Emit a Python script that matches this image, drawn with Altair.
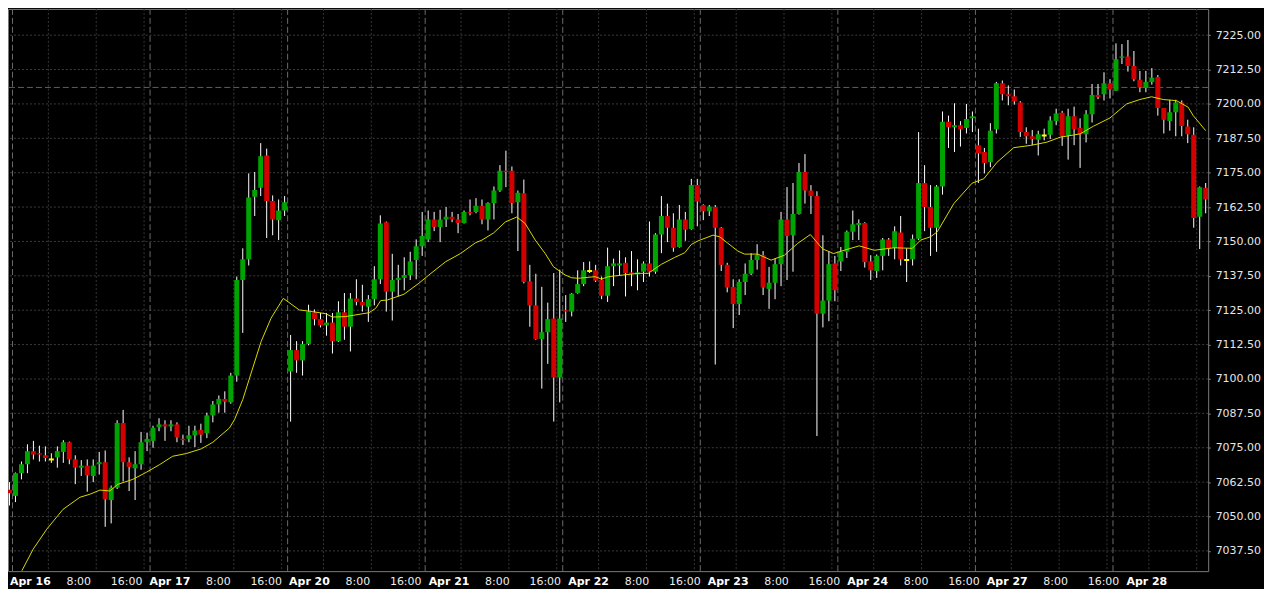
import altair as alt
import pandas as pd

# ---------------- data (hourly candles) ----------------
open_ = [
    7058.5, 7059.75, 7057.5, 7065.75, 7069.0, 7073.75, 7073.0, 7072.25, 7070.75, 7071.5,
    7073.5, 7077.0, 7070.75, 7067.75, 7068.5, 7064.75, 7069.0, 7069.75, 7056.0, 7060.5,
    7084.0, 7069.75, 7067.5, 7069.0, 7077.0, 7077.5, 7082.5, 7083.5, 7082.75, 7083.5,
    7078.25, 7078.25, 7079.5, 7081.5, 7080.25, 7086.75, 7090.75, 7092.75, 7091.5, 7101.25,
    7136.0, 7143.5, 7166.25, 7169.5, 7181.25, 7164.75, 7157.75, 7161.25, 7102.75, 7110.5,
    7106.75, 7112.75, 7124.25, 7121.75, 7119.5, 7120.5, 7113.75, 7124.25, 7119.0, 7129.25,
    7128.0, 7126.25, 7129.0, 7136.25, 7157.0, 7131.75, 7136.0, 7136.75, 7137.75, 7143.25,
    7148.25, 7150.75, 7158.0, 7155.25, 7158.0, 7159.0, 7158.0, 7156.75, 7160.75, 7160.75,
    7163.0, 7158.0, 7164.0, 7168.5, 7175.75, 7175.75, 7164.25, 7167.5, 7135.5, 7126.75,
    7114.5, 7117.0, 7122.0, 7100.5, 7125.0, 7124.5, 7131.25, 7134.5, 7139.25, 7139.5,
    7136.0, 7130.25, 7141.0, 7141.25, 7142.25, 7138.75, 7138.0, 7139.0, 7142.0, 7139.0,
    7152.5, 7159.25, 7155.0, 7148.0, 7158.0, 7154.5, 7170.5, 7163.25, 7161.0, 7162.5,
    7155.0, 7141.5, 7133.5, 7127.25, 7135.25, 7138.25, 7143.25, 7145.0, 7132.75, 7135.0,
    7141.75, 7158.0, 7152.25, 7160.0, 7175.25, 7168.5, 7166.5, 7123.75, 7128.5, 7142.0,
    7142.75, 7146.25, 7153.5, 7156.0, 7156.75, 7142.75, 7139.25, 7144.75, 7150.75, 7147.75,
    7153.25, 7143.25, 7143.5, 7151.0, 7171.25, 7162.5, 7155.0, 7170.0, 7193.5, 7191.5,
    7192.25, 7191.25, 7194.75, 7185.0, 7182.5, 7178.75, 7190.75, 7207.5, 7203.5, 7202.75,
    7200.5, 7189.75, 7188.25, 7187.0, 7188.5, 7188.75, 7193.75, 7196.75, 7188.5, 7195.5,
    7191.25, 7189.0, 7196.25, 7203.25, 7203.5, 7207.5, 7204.75, 7216.75, 7217.25, 7213.75,
    7208.75, 7205.75, 7208.0, 7209.75, 7198.5, 7193.75, 7197.0, 7200.5, 7191.75, 7188.75,
    7159.0, 7169.5,
]
high = [
    7064.5, 7062.5, 7066.0, 7070.0, 7076.25, 7077.5, 7075.75, 7075.5, 7073.0, 7075.5,
    7077.75, 7077.25, 7072.25, 7070.5, 7070.75, 7070.75, 7073.5, 7074.0, 7061.25, 7085.0,
    7088.75, 7071.5, 7073.75, 7080.75, 7080.5, 7083.0, 7085.75, 7085.0, 7085.0, 7084.25,
    7079.75, 7083.0, 7083.0, 7083.75, 7087.75, 7092.0, 7094.0, 7095.5, 7102.25, 7137.25,
    7147.5, 7174.75, 7175.25, 7185.75, 7183.75, 7166.75, 7165.25, 7166.5, 7116.0, 7113.75,
    7113.75, 7127.0, 7125.25, 7124.0, 7124.0, 7124.0, 7128.25, 7131.25, 7131.25, 7136.25,
    7134.25, 7130.5, 7141.0, 7159.5, 7157.25, 7145.5, 7141.5, 7144.25, 7146.25, 7150.75,
    7160.75, 7161.25, 7160.75, 7161.5, 7162.5, 7160.75, 7160.0, 7161.25, 7165.25, 7165.75,
    7165.25, 7164.25, 7170.0, 7177.75, 7183.0, 7177.25, 7168.5, 7172.5, 7141.5, 7138.25,
    7133.5, 7127.75, 7138.5, 7139.75, 7130.5, 7131.25, 7139.5, 7142.5, 7142.75, 7141.5,
    7137.25, 7147.75, 7143.75, 7146.75, 7144.25, 7146.5, 7143.5, 7142.75, 7157.25, 7153.0,
    7166.5, 7163.75, 7160.25, 7163.25, 7160.75, 7172.75, 7172.75, 7163.5, 7163.25, 7163.25,
    7155.25, 7142.25, 7136.25, 7136.25, 7142.0, 7145.75, 7149.0, 7146.5, 7140.75, 7143.75,
    7160.75, 7169.75, 7171.25, 7178.5, 7181.75, 7170.5, 7168.25, 7152.25, 7146.5, 7144.75,
    7148.0, 7154.0, 7161.25, 7158.0, 7157.0, 7145.0, 7145.25, 7151.25, 7151.25, 7155.5,
    7159.25, 7147.5, 7152.5, 7189.75, 7177.75, 7170.5, 7170.5, 7197.25, 7195.75, 7200.25,
    7193.75, 7200.0, 7197.25, 7191.0, 7184.0, 7193.0, 7208.0, 7208.5, 7206.75, 7205.25,
    7201.0, 7191.5, 7190.5, 7190.25, 7191.0, 7195.5, 7198.25, 7197.5, 7198.25, 7199.0,
    7194.75, 7197.75, 7207.25, 7207.25, 7211.5, 7209.0, 7222.0, 7221.75, 7223.25, 7219.25,
    7212.0, 7212.0, 7213.0, 7210.5, 7198.5, 7201.5, 7201.5, 7201.25, 7194.25, 7191.5,
    7170.0, 7171.25,
]
low = [
    7054.0, 7054.0, 7055.25, 7063.5, 7065.75, 7070.75, 7070.0, 7070.0, 7069.5, 7067.75,
    7069.5, 7069.0, 7061.75, 7064.75, 7059.0, 7062.5, 7065.25, 7046.25, 7047.5, 7060.0,
    7062.75, 7059.25, 7056.0, 7067.0, 7073.75, 7075.0, 7081.0, 7077.5, 7081.0, 7077.0,
    7076.0, 7077.0, 7075.25, 7076.75, 7078.5, 7084.25, 7087.75, 7087.75, 7091.0, 7099.0,
    7116.75, 7141.25, 7159.25, 7166.5, 7151.25, 7152.25, 7150.5, 7159.25, 7084.5, 7102.25,
    7101.25, 7112.25, 7119.5, 7118.75, 7115.75, 7109.25, 7113.5, 7114.25, 7110.0, 7126.75,
    7124.5, 7120.75, 7126.75, 7134.5, 7124.5, 7121.25, 7130.0, 7132.25, 7136.0, 7136.25,
    7144.75, 7149.75, 7153.75, 7149.75, 7155.25, 7157.0, 7153.0, 7156.5, 7159.5, 7160.25,
    7156.25, 7154.0, 7158.0, 7168.0, 7169.75, 7160.25, 7146.5, 7134.75, 7119.0, 7114.25,
    7096.5, 7105.5, 7084.5, 7091.5, 7120.75, 7122.75, 7131.0, 7133.75, 7138.5, 7135.25,
    7129.0, 7128.0, 7133.75, 7137.5, 7130.0, 7133.75, 7132.25, 7135.25, 7137.25, 7138.25,
    7145.75, 7149.75, 7146.25, 7147.75, 7150.25, 7154.25, 7155.5, 7157.75, 7159.25, 7105.25,
    7139.25, 7131.5, 7118.5, 7123.25, 7130.5, 7137.75, 7139.75, 7130.5, 7125.5, 7129.0,
    7133.75, 7136.0, 7139.0, 7159.75, 7163.75, 7160.0, 7079.25, 7118.75, 7121.0, 7128.25,
    7139.25, 7144.0, 7150.5, 7150.5, 7140.5, 7136.0, 7136.75, 7139.5, 7144.75, 7143.5,
    7141.25, 7135.25, 7141.25, 7150.5, 7153.75, 7144.75, 7146.25, 7167.0, 7184.0, 7182.5,
    7184.5, 7189.25, 7189.75, 7171.25, 7174.75, 7177.0, 7189.25, 7201.25, 7199.5, 7199.75,
    7188.0, 7185.5, 7185.0, 7181.25, 7186.75, 7187.25, 7192.25, 7184.75, 7179.75, 7185.0,
    7176.75, 7186.0, 7193.25, 7201.75, 7201.25, 7202.0, 7204.75, 7214.5, 7211.75, 7208.25,
    7204.25, 7204.25, 7207.0, 7195.75, 7189.25, 7190.25, 7188.25, 7188.25, 7185.75, 7155.0,
    7147.25, 7160.25,
]
close = [
    7059.75, 7058.5, 7065.75, 7069.0, 7073.75, 7072.5, 7072.5, 7071.25, 7070.75, 7073.75,
    7077.0, 7070.75, 7067.75, 7068.5, 7065.0, 7068.5, 7069.75, 7056.25, 7060.5, 7084.0,
    7069.75, 7068.0, 7069.0, 7077.0, 7078.25, 7082.25, 7083.5, 7082.75, 7083.5, 7078.75,
    7077.75, 7079.5, 7081.25, 7079.75, 7086.75, 7090.75, 7092.75, 7091.75, 7101.25, 7136.0,
    7143.5, 7166.0, 7168.75, 7181.0, 7164.75, 7158.0, 7161.25, 7164.25, 7110.5, 7106.75,
    7112.75, 7124.5, 7121.75, 7119.5, 7120.5, 7113.75, 7124.25, 7119.0, 7129.25, 7128.0,
    7126.75, 7129.0, 7136.25, 7156.5, 7131.75, 7136.0, 7136.75, 7137.75, 7142.75, 7148.25,
    7152.0, 7158.0, 7155.25, 7158.0, 7159.0, 7158.0, 7156.75, 7160.75, 7160.25, 7163.0,
    7158.0, 7164.0, 7168.5, 7175.75, 7175.25, 7164.0, 7167.75, 7135.25, 7126.75, 7114.5,
    7117.0, 7121.75, 7100.5, 7122.0, 7124.5, 7131.0, 7134.5, 7139.5, 7139.25, 7135.75,
    7130.25, 7141.0, 7142.0, 7142.0, 7138.5, 7138.25, 7138.75, 7142.0, 7139.0, 7152.5,
    7159.25, 7155.0, 7147.75, 7158.0, 7154.25, 7170.5, 7164.5, 7161.0, 7162.75, 7155.0,
    7141.5, 7133.25, 7127.25, 7135.25, 7138.25, 7143.25, 7145.0, 7133.25, 7135.0, 7141.75,
    7158.0, 7152.0, 7160.0, 7175.25, 7168.5, 7166.5, 7123.75, 7128.5, 7141.75, 7132.25,
    7146.25, 7153.5, 7156.25, 7156.75, 7142.5, 7139.5, 7144.75, 7150.75, 7147.5, 7153.75,
    7143.5, 7143.25, 7151.0, 7171.25, 7162.5, 7155.0, 7170.0, 7193.5, 7191.5, 7192.25,
    7190.75, 7194.5, 7195.5, 7182.0, 7178.5, 7190.25, 7207.5, 7203.5, 7202.75, 7201.0,
    7189.75, 7188.25, 7187.25, 7189.0, 7188.5, 7194.0, 7196.5, 7188.25, 7195.5, 7190.75,
    7189.0, 7196.25, 7203.25, 7202.5, 7207.5, 7205.25, 7216.25, 7217.25, 7213.75, 7209.0,
    7206.0, 7208.0, 7209.5, 7198.5, 7194.25, 7197.0, 7200.5, 7192.0, 7189.0, 7158.5,
    7169.75, 7165.25,
]

# moving-average line, read at points along it (bar index, price)
ma_bar = [3.07, 4.95, 7.23, 9.95, 12.78, 14.45, 16.12, 17.78, 19.12, 21.62, 23.9, 26.12,
          28.28, 30.57, 33.07, 35.0, 37.78, 38.62, 40.0, 41.67, 43.07, 44.73, 46.78, 49.45,
          51.67, 53.9, 55.0, 57.23, 61.12, 62.23, 63.07, 64.17, 66.95, 69.45, 71.12, 73.9,
          76.4, 78.9, 80.0, 81.95, 83.9, 85.83, 87.23, 88.9, 90.57, 91.95, 93.9, 95.0,
          96.12, 98.9, 100.0, 101.12, 106.12, 107.78, 110.0, 112.23, 113.9, 115.0, 116.12,
          118.62, 119.73, 122.78, 123.9, 126.12, 128.33, 130.57, 132.78, 134.9, 136.95,
          138.78, 140.57, 143.07, 145.57, 148.9, 151.95, 153.33, 155.0, 156.12, 158.9,
          161.95, 163.9, 166.12, 168.9, 171.67, 174.45, 176.67, 180.0, 182.23, 185.0,
          187.78, 190.0, 191.95, 193.9, 196.12, 198.07, 198.9, 201.0]
ma_value = [7030.3, 7038.1, 7045.4, 7052.6, 7057.0, 7058.1, 7059.6, 7059.3, 7061.7, 7063.5,
            7066.1, 7068.9, 7071.9, 7072.9, 7074.6, 7077.0, 7082.2, 7085.2, 7092.5, 7104.0,
            7113.6, 7122.1, 7129.3, 7125.1, 7124.5, 7123.7, 7122.5, 7122.7, 7124.1, 7125.7,
            7128.5, 7128.7, 7130.8, 7134.8, 7137.8, 7142.6, 7145.6, 7149.5, 7150.5, 7153.1,
            7157.1, 7158.9, 7156.5, 7150.5, 7145.6, 7140.8, 7137.8, 7136.8, 7136.6, 7137.2,
            7136.3, 7137.2, 7138.4, 7138.4, 7141.7, 7144.2, 7145.9, 7148.9, 7150.2, 7152.3,
            7151.7, 7146.5, 7145.4, 7145.4, 7143.2, 7145.0, 7149.3, 7152.5, 7147.3, 7145.6,
            7146.8, 7148.4, 7146.8, 7147.7, 7147.5, 7150.5, 7151.7, 7153.5, 7163.8, 7171.2,
            7172.8, 7178.8, 7184.1, 7184.9, 7186.1, 7187.9, 7189.1, 7191.9, 7194.9, 7200.0,
            7201.6, 7202.6, 7201.6, 7201.2, 7198.8, 7195.8, 7190.3]

level_price = [7206.0]

day_labels = ["Apr 16", "Apr 17", "Apr 20", "Apr 21", "Apr 22", "Apr 23", "Apr 24", "Apr 27", "Apr 28"]
day_start_bar = [2, 25, 48, 71, 94, 117, 140, 163, 186]   # first hourly bar of each session
hour_labels = ["8:00", "16:00"]
y_ticks = [7037.5, 7050.0, 7062.5, 7075.0, 7087.5, 7100.0, 7112.5, 7125.0, 7137.5,
           7150.0, 7162.5, 7175.0, 7187.5, 7200.0, 7212.5, 7225.0]

# ---------------- layout / style ----------------
GREEN = "#00a400"
RED = "#d40000"
DOJI = "#ffff00"
MA_COLOR = "#d8d800"
FONT = "DejaVu Sans"
BODY_HALF = 2.5 / 6.0          # 5 px bodies on a 6 px bar pitch
LABEL_STEP = 140.0 / 6.0        # axis-label pitch per session (bars)

bars = pd.DataFrame({"bar": list(range(len(open_))), "open": open_, "high": high,
                     "low": low, "close": close})
bars["kind"] = ["up" if c > o else ("down" if c < o else "doji") for o, c in zip(open_, close)]
bars["x0"] = bars["bar"] - BODY_HALF
bars["x1"] = bars["bar"] + BODY_HALF

ma = pd.DataFrame({"bar": ma_bar, "ma": ma_value})
bounds = pd.DataFrame({"x": [s - 0.5 for s in day_start_bar]})
hours = pd.DataFrame({"x": [s - 0.5 + h for s in day_start_bar for h in (6, 14, 22)]})
level = pd.DataFrame({"price": level_price})
ticks = pd.DataFrame({"price": y_ticks})

day_lab = pd.DataFrame({"label": day_labels,
                        "x": [1.08 + LABEL_STEP * k for k in range(len(day_labels))]})
hr_rows = []
for k in range(len(day_labels) - 1):
    hr_rows.append({"label": hour_labels[0], "x": 12.58 + LABEL_STEP * k})
    hr_rows.append({"label": hour_labels[1], "x": 20.58 + LABEL_STEP * k})
hour_lab = pd.DataFrame(hr_rows)

x_scale = alt.Scale(domain=[0.75, 201.4167], nice=False, zero=False)
y_scale = alt.Scale(domain=[7030.14, 7234.54], nice=False, zero=False)
y_axis = alt.Axis(orient="right", values=y_ticks, format=".2f", title=None,
                  grid=False, domain=False,
                  tickSize=2, tickColor="#8a8a8a", labelPadding=5, labelFont=FONT,
                  labelFontSize=11, labelColor="#e6e6e6", labelFlush=False,
                  labelOverlap=False)


def X(f):
    return alt.X(f, type="quantitative", scale=x_scale, axis=None)


def Y(f):
    return alt.Y(f, type="quantitative", scale=y_scale, axis=y_axis)


# horizontal dotted grid (drawn as rules so it sits under the candles)
h_grid = alt.Chart(ticks).mark_rule(color="#3c3c3c", strokeDash=[2, 2], strokeWidth=1,
                                    clip=True).encode(y=Y("price"))
hour_rules = alt.Chart(hours).mark_rule(color="#363636", strokeDash=[2, 2], strokeWidth=1,
                                        clip=True).encode(x=X("x"))
day_rules = alt.Chart(bounds).mark_rule(color="#6a6a6a", strokeDash=[6, 3], strokeWidth=1,
                                        clip=True).encode(x=X("x"))
level_rule = alt.Chart(level).mark_rule(color="#5f5f5f", strokeDash=[6, 3], strokeWidth=1,
                                        clip=True).encode(y=Y("price"))

wicks = alt.Chart(bars).mark_rule(color="#ffffff", strokeWidth=1, clip=True).encode(
    x=X("bar"), y=Y("low"), y2="high")

bodies = alt.Chart(bars).transform_filter("datum.kind != 'doji'").mark_rect(clip=True).encode(
    x=X("x0"), x2="x1", y=Y("open"), y2="close",
    color=alt.Color("kind:N", scale=alt.Scale(domain=["up", "down"], range=[GREEN, RED]),
                    legend=None))

dojis = alt.Chart(bars).transform_filter("datum.kind == 'doji'").mark_tick(
    orient="horizontal", size=5, thickness=2, color=DOJI, opacity=1, clip=True).encode(
    x=X("bar"), y=Y("open"))

ma_line = alt.Chart(ma).mark_line(color=MA_COLOR, strokeWidth=1, clip=True).encode(
    x=X("bar"), y=Y("ma"))

day_text = alt.Chart(day_lab).mark_text(align="left", baseline="alphabetic", font=FONT,
                                        fontSize=11, fontWeight="bold", color="#ffffff").encode(
    x=X("x"), y=alt.value(578), text="label:N")
hour_text = alt.Chart(hour_lab).mark_text(align="center", baseline="alphabetic", font=FONT,
                                          fontSize=11, color="#eeeeee").encode(
    x=X("x"), y=alt.value(578), text="label:N")

chart = alt.layer(
    h_grid, hour_rules, day_rules, level_rule, wicks, bodies, dojis, ma_line, day_text, hour_text
).properties(
    width=1204, height=564,
    padding={"left": 0, "top": 0, "right": 56, "bottom": 17},
    autosize=alt.AutoSizeParams(type="none"),
    background="#000000",
).configure_view(stroke="#7a7a7a", strokeWidth=1)

chart.save("out.html", embed_options={"renderer": "svg", "actions": False})
